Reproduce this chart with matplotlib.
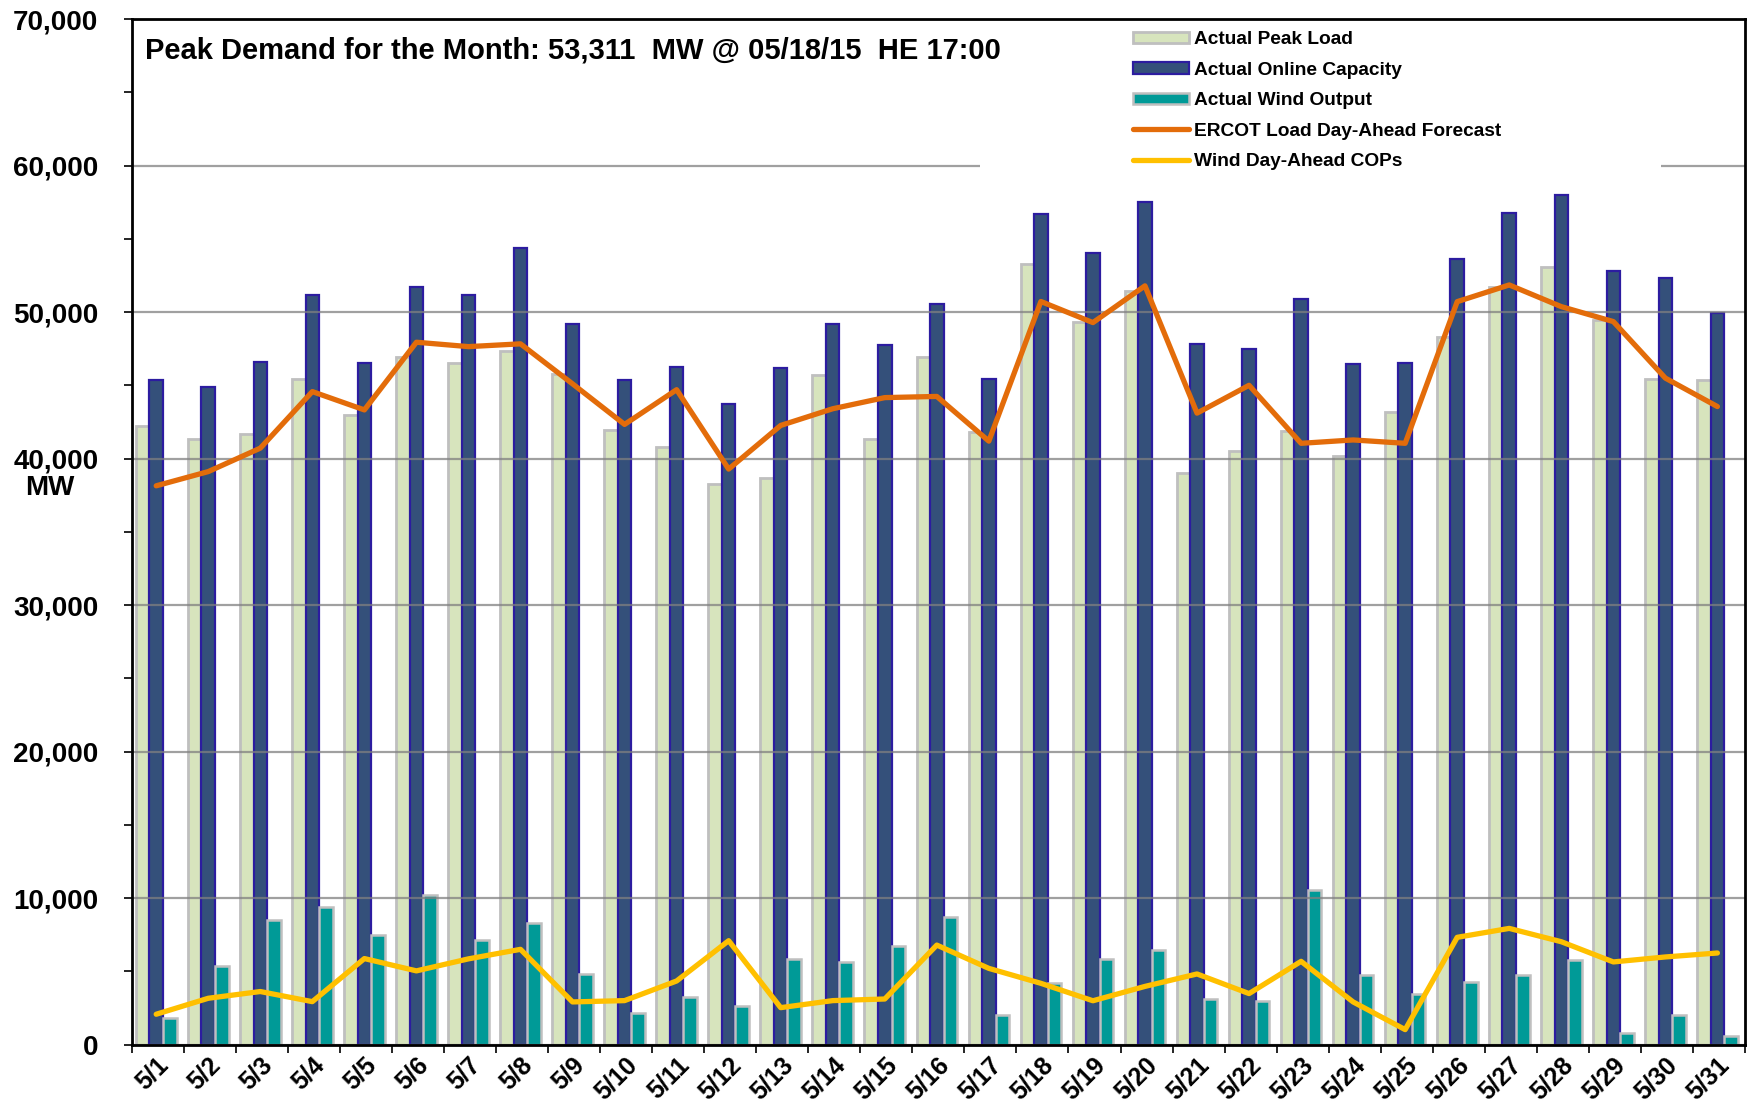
import numpy as np
import matplotlib
matplotlib.use('Agg')
import matplotlib.pyplot as plt
import matplotlib.patches as patches
from matplotlib.ticker import FuncFormatter, MultipleLocator

plt.rcParams['font.family'] = ['Liberation Sans', 'DejaVu Sans']
plt.rcParams['font.weight'] = 'bold'

days = ['5/1', '5/2', '5/3', '5/4', '5/5', '5/6', '5/7', '5/8', '5/9', '5/10',
        '5/11', '5/12', '5/13', '5/14', '5/15', '5/16', '5/17', '5/18', '5/19', '5/20',
        '5/21', '5/22', '5/23', '5/24', '5/25', '5/26', '5/27', '5/28', '5/29', '5/30', '5/31']

peak_load = [42190, 41320, 41690, 45420, 42980, 46960, 46550, 47350, 45800, 41950,
             40810, 38290, 38670, 45690, 41340, 46910, 41800, 53311, 49350, 51410,
             38980, 40500, 41880, 40200, 43170, 48280, 51700, 53050, 49450, 45420, 45370]

online_capacity = [45370, 44870, 46580, 51170, 46510, 51740, 51170, 54400, 49190, 45390,
                   46220, 43700, 46150, 49200, 47750, 50570, 45460, 56680, 54000, 57510,
                   47830, 47450, 50880, 46450, 46530, 53630, 56790, 57990, 52810, 52350, 49960]

wind_output = [1820, 5390, 8470, 9380, 7480, 10220, 7170, 8320, 4800, 2130,
               3270, 2640, 5850, 5660, 6710, 8700, 2020, 4220, 5840, 6450,
               3140, 2980, 10530, 4770, 3480, 4270, 4770, 5800, 820, 2050, 570]

load_forecast = [38140, 39110, 40710, 44570, 43320, 47940, 47640, 47830, 45100, 42330,
                 44700, 39280, 42260, 43400, 44160, 44240, 41190, 50720, 49280, 51790,
                 43100, 45000, 41040, 41270, 41040, 50710, 51850, 50370, 49350, 45490, 43550]

wind_cops = [2070, 3160, 3620, 2930, 5870, 5030, 5850, 6500, 2910, 3000,
             4340, 7090, 2520, 3000, 3110, 6790, 5200, 4180, 2990, 3970,
             4820, 3480, 5680, 2910, 1020, 7320, 7930, 7020, 5640, 5980, 6250]

title = 'Peak Demand for the Month: 53,311  MW @ 05/18/15  HE 17:00'

fig = plt.figure(figsize=(17.52, 11.07), dpi=100)
ax = fig.add_axes([0.0752, 0.0564, 0.9208, 0.9264])

x = np.arange(len(days))
gc = x - 0.03
w = 0.26

b1 = ax.bar(gc - w, peak_load, w, color='#d7e4bd', edgecolor='#bfbfbf', linewidth=2,
            label='Actual Peak Load', zorder=2)
b2 = ax.bar(gc, online_capacity, w, color='#34507a', edgecolor='#2c1ca0', linewidth=1.6,
            label='Actual Online Capacity', zorder=2)
b3 = ax.bar(gc + w, wind_output, w, color='#009a97', edgecolor='#bfbfbf', linewidth=1.8,
            label='Actual Wind Output', zorder=2)
l1, = ax.plot(gc, load_forecast, color='#e36c0a', linewidth=3.8, solid_capstyle='round',
              label='ERCOT Load Day-Ahead Forecast', zorder=4)
l2, = ax.plot(gc, wind_cops, color='#ffc000', linewidth=3.8, solid_capstyle='round',
              label='Wind Day-Ahead COPs', zorder=4)

ax.set_xlim(-0.5, len(days) - 0.5)
ax.set_ylim(0, 70000)

# y axis
ax.yaxis.set_major_locator(MultipleLocator(10000))
ax.yaxis.set_minor_locator(MultipleLocator(5000))
ax.yaxis.set_major_formatter(FuncFormatter(lambda v, p: f'{int(v):,}'))
ax.tick_params(axis='y', which='major', direction='out', length=6, width=1.2,
               labelsize=20, pad=18)
ax.tick_params(axis='y', which='minor', direction='out', length=6, width=1.2)
ax.grid(axis='y', which='major', color='#808080', linewidth=1.6, alpha=0.75, zorder=2.5)
ax.set_axisbelow(False)

# x axis: ticks at boundaries, labels at centres
ax.set_xticks(np.arange(-0.5, len(days), 1))
ax.set_xticklabels([])
ax.set_xticks(gc, minor=True)
ax.set_xticklabels(days, minor=True, rotation=45, ha='right', rotation_mode='anchor',
                   fontsize=18)
ax.tick_params(axis='x', which='major', direction='out', length=6, width=1.2)
ax.tick_params(axis='x', which='minor', length=0, pad=6)

for s in ax.spines.values():
    s.set_linewidth(2)
    s.set_color('black')
    s.set_zorder(6)

# white box behind the legend hides the gridline
ax.add_patch(patches.Rectangle((0.526, 0.84), 0.422, 0.16, transform=ax.transAxes,
                               facecolor='white', edgecolor='none', zorder=3))

leg = ax.legend(handles=[b1, b2, b3, l1, l2], loc='upper left',
                bbox_to_anchor=(0.6206, 0.988), frameon=False,
                prop={'size': 13.8, 'weight': 'bold'}, handlelength=2.9, handleheight=0.55,
                handletextpad=0.3, labelspacing=0.7, borderpad=0, borderaxespad=0)
leg.set_zorder(5)

ax.text(0.0085, 0.9695, title, transform=ax.transAxes, fontsize=21, fontweight='bold',
        va='center', ha='left', zorder=5)

fig.text(0.0285, 1 - 488 / 1107, 'MW', fontsize=20, fontweight='bold', ha='center', va='center')

fig.savefig('out.png', dpi=100)
